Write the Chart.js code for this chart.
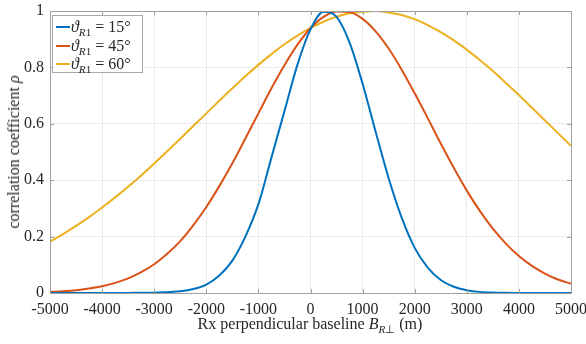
<!DOCTYPE html>
<html>
<head>
<meta charset="utf-8">
<script src="https://cdn.jsdelivr.net/npm/chart.js@4"></script>
<style>
  html,body{margin:0;padding:0;background:#fff;}
  #wrap{position:relative;width:586px;height:344px;font-family:"Liberation Serif",serif;color:#262626;}
  canvas{position:absolute;left:0;top:0;}
  .xt{position:absolute;left:0;width:620px;top:315px;text-align:center;font-size:16px;white-space:nowrap;}
  .yt{position:absolute;left:14px;top:152px;font-size:16px;white-space:nowrap;transform:translate(-50%,-50%) rotate(-90deg);}
  sub{font-size:70%;vertical-align:-0.35em;line-height:0;}
  #legend{position:absolute;left:52px;top:15px;width:91px;height:58px;border:1px solid #a8a8a8;background:#fff;font-size:16px;box-sizing:border-box;}
  .row{position:absolute;left:3px;height:18px;line-height:18px;white-space:nowrap;}
  .sw{display:inline-block;width:14px;height:2px;vertical-align:middle;margin-right:1px;position:relative;top:-1px;}
</style>
</head>
<body>
<div id="wrap">
<canvas id="c" width="586" height="344"></canvas>
<div class="xt">Rx perpendicular baseline <i>B</i><sub><i>R</i>⊥</sub> (m)</div>
<div class="yt">correlation coefficient <i>ρ</i></div>
<div id="legend"></div>
</div>
<script>
const xs = [-5000,-4750,-4500,-4250,-4000,-3750,-3500,-3250,-3000,-2750,-2500,-2250,-2000,-1750,-1500,-1250,-1000,-750,-500,-250,0,250,500,750,1000,1250,1500,1750,2000,2250,2500,2750,3000,3250,3500,3750,4000,4250,4500,4750,5000];
const rho15 = [0,0,0,0,0,0,0,0.001,0.001,0.003,0.006,0.014,0.03,0.062,0.115,0.2,0.315,0.48,0.645,0.81,0.935,0.997,0.979,0.888,0.742,0.572,0.407,0.267,0.16,0.09,0.046,0.022,0.01,0.004,0.0015,0.0005,0,0,0,0,0];
const rho45 = [0.004,0.0065,0.010,0.016,0.024,0.036,0.052,0.074,0.102,0.139,0.184,0.24,0.305,0.379,0.46,0.548,0.637,0.726,0.808,0.881,0.939,0.979,0.998,0.996,0.972,0.928,0.867,0.792,0.708,0.62,0.53,0.444,0.363,0.291,0.228,0.175,0.131,0.096,0.069,0.048,0.033];
const rho60 = [0.182,0.209,0.238,0.269,0.303,0.339,0.377,0.417,0.459,0.503,0.547,0.592,0.637,0.682,0.726,0.769,0.809,0.847,0.882,0.913,0.94,0.962,0.98,0.992,0.997,1.0,0.995,0.986,0.971,0.95,0.925,0.896,0.863,0.826,0.787,0.745,0.702,0.657,0.612,0.567,0.522];
const angles = ["15°","45°","60°"];
const colors = ["#0072BD","#D95319","#EDB120"];
const xTicks = [-5000,-4000,-3000,-2000,-1000,0,1000,2000,3000,4000,5000];
const yTicks = [0,0.2,0.4,0.6,0.8,1];

const series = [rho15, rho45, rho60];
const datasets = series.map((ys,i)=>({
  label: "theta " + angles[i],
  data: xs.map((x,j)=>({x:x,y:ys[j]})),
  borderColor: colors[i],
  borderWidth: 2,
  pointRadius: 0,
  fill: false,
  cubicInterpolationMode: 'monotone'
}));

const lg = document.getElementById('legend');
angles.forEach((a,i)=>{
  const r = document.createElement('div');
  r.className='row';
  r.style.top = (2 + i*18.5) + 'px';
  r.innerHTML = '<span class="sw" style="background:'+colors[i]+'"></span><i>ϑ</i><sub><i>R</i>1</sub> = '+a;
  lg.appendChild(r);
});

const boxPlugin = {
  id:'box',
  afterDraw(chart){
    const {ctx, chartArea:a, scales:{x,y}} = chart;
    ctx.save();
    ctx.strokeStyle = '#a0a0a0';
    ctx.lineWidth = 1;
    ctx.beginPath();
    ctx.rect(Math.round(a.left)+0.5, Math.round(a.top)+0.5, Math.round(a.right-a.left), Math.round(a.bottom-a.top));
    ctx.stroke();
    const L = 4;
    ctx.beginPath();
    xTicks.forEach(v=>{
      const px = Math.round(x.getPixelForValue(v))+0.5;
      ctx.moveTo(px, a.bottom); ctx.lineTo(px, a.bottom-L);
      ctx.moveTo(px, a.top); ctx.lineTo(px, a.top+L);
    });
    yTicks.forEach(v=>{
      const py = Math.round(y.getPixelForValue(v))+0.5;
      ctx.moveTo(a.left, py); ctx.lineTo(a.left+L, py);
      ctx.moveTo(a.right, py); ctx.lineTo(a.right-L, py);
    });
    ctx.stroke();
    ctx.restore();
  }
};

new Chart(document.getElementById('c'), {
  type:'line',
  data:{datasets},
  options:{
    responsive:false,
    animation:false,
    events:[],
    layout:{padding:{left:0,right:15,top:11,bottom:0}},
    plugins:{legend:{display:false},tooltip:{enabled:false}},
    scales:{
      x:{
        type:'linear', min:-5000, max:5000,
        afterFit(s){ s.height = 51; s.paddingLeft = 0; s.paddingRight = 0; },
        afterBuildTicks(s){ s.ticks = xTicks.map(v=>({value:v})); },
        grid:{color:'#ebebeb', drawTicks:false},
        border:{display:false},
        ticks:{padding:7, color:'#262626', font:{family:'"Liberation Serif", serif', size:16}, maxRotation:0, autoSkip:false, callback:v=>String(v)}
      },
      y:{
        type:'linear', min:0, max:1,
        afterFit(s){ s.width = 50; s.paddingTop = 0; s.paddingBottom = 0; },
        afterBuildTicks(s){ s.ticks = yTicks.map(v=>({value:v})); },
        grid:{color:'#ebebeb', drawTicks:false},
        border:{display:false},
        ticks:{padding:6, color:'#262626', font:{family:'"Liberation Serif", serif', size:16}, callback:v=>String(Math.round(v*10)/10)}
      }
    }
  },
  plugins:[boxPlugin]
});
</script>
</body>
</html>
